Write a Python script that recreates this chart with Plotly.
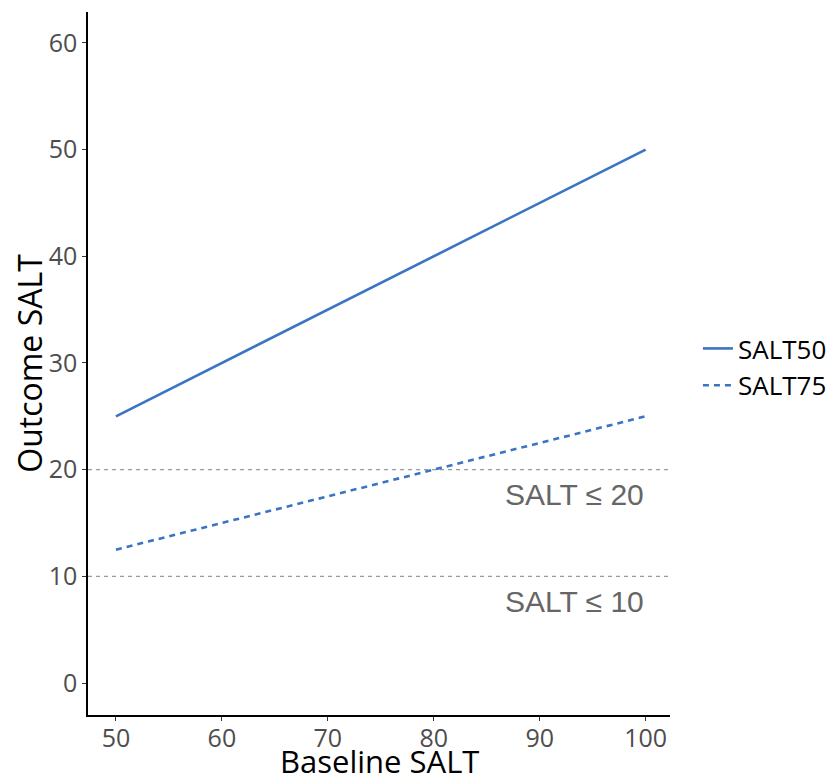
import plotly.graph_objects as go

# Data
baseline = [50, 60, 70, 80, 90, 100]
salt50 = [25, 30, 35, 40, 45, 50]
salt75 = [12.5, 15, 17.5, 20, 22.5, 25]

thresholds = [20, 10]
threshold_labels = ['SALT ≤ 20', 'SALT ≤ 10']
label_y = [17.7, 7.6]

x_ticks = [50, 60, 70, 80, 90, 100]
y_ticks = [0, 10, 20, 30, 40, 50, 60]

BLUE = '#3A74C3'
GREY = '#9A9A9A'

fig = go.Figure()

fig.add_trace(go.Scatter(
    x=baseline, y=salt50, mode='lines', name='SALT50',
    line=dict(color=BLUE, width=2.6)
))
fig.add_trace(go.Scatter(
    x=baseline, y=salt75, mode='lines', name='SALT75',
    line=dict(color=BLUE, width=2.6, dash='6px,5px')
))

# Reference thresholds
for t in thresholds:
    fig.add_hline(y=t, line=dict(color=GREY, width=1.2, dash='4px,4px'), layer='below')

for lbl, yv in zip(threshold_labels, label_y):
    fig.add_annotation(
        x=93.3, y=yv, text=lbl, showarrow=False, xanchor='center', yanchor='middle',
        font=dict(family='Liberation Sans, Arial', size=30, color='#666666')
    )

# x axis title as annotation so it can sit tight under the tick labels
fig.add_annotation(
    x=0.5, y=-0.097, xref='paper', yref='paper', text='Baseline SALT',
    showarrow=False, xanchor='center', yanchor='bottom', borderpad=0,
    font=dict(family='Open Sans', size=31, color='#000000')
)

# page body adds ~8px offset, so margins are trimmed on left/top
fig.update_layout(
    width=834, height=784,
    margin=dict(l=80, r=172, t=4, b=77, autoexpand=False),
    plot_bgcolor='white', paper_bgcolor='white',
    font=dict(family='Open Sans', color='#000000'),
    legend=dict(
        x=1.048, y=0.495, xanchor='left', yanchor='middle',
        font=dict(family='Open Sans', size=26, color='#000000'),
        tracegroupgap=0, itemwidth=30
    ),
)

fig.update_xaxes(
    range=[47.36, 102.3], tickvals=x_ticks, showgrid=False, zeroline=False,
    showline=True, linecolor='#000000', linewidth=1.5, automargin=False,
    ticks='outside', ticklen=4, tickcolor='#333333', ticklabelstandoff=-4,
    tickfont=dict(family='Open Sans', size=25, color='#4D4D4D')
)
fig.update_yaxes(
    range=[-3, 62.9], tickvals=y_ticks, showgrid=False, zeroline=False,
    showline=True, linecolor='#000000', linewidth=1.5, automargin=False,
    ticks='outside', ticklen=4, tickcolor='#333333',
    tickfont=dict(family='Open Sans', size=25, color='#4D4D4D'),
    title=dict(text='Outcome SALT', font=dict(family='Open Sans', size=32, color='#000000'), standoff=4)
)

fig.write_html('out.html')
